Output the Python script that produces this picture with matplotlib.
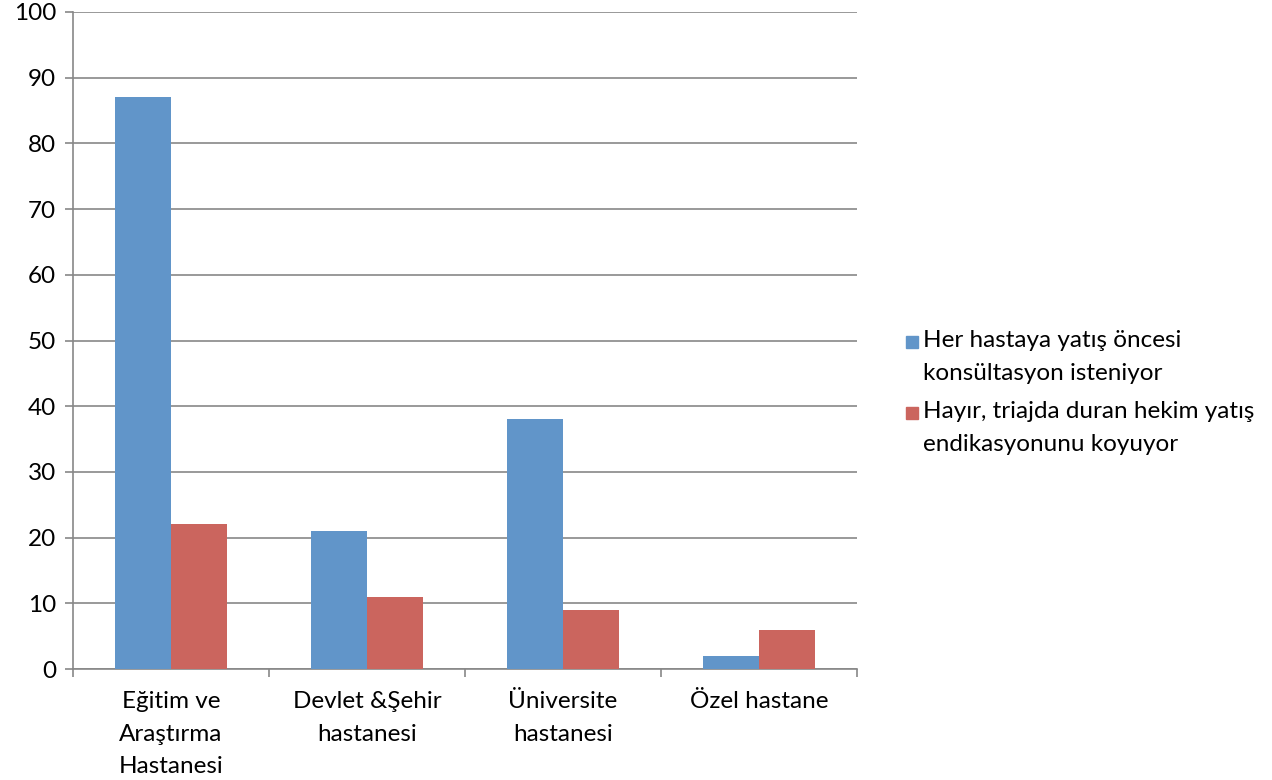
import numpy as np
import matplotlib.pyplot as plt
from matplotlib.patches import Rectangle

categories = ["Eğitim ve\nAraştırma\nHastanesi", "Devlet &Şehir\nhastanesi",
              "Üniversite\nhastanesi", "Özel hastane"]
series_names = ["Her hastaya yatış öncesi\nkonsültasyon isteniyor",
                "Hayır, triajda duran hekim yatış\nendikasyonunu koyuyor"]
consult = [87, 21, 38, 2]
triage = [22, 11, 9, 6]
colors = ["#6195C9", "#CB655E"]

plt.rcParams['font.family'] = ['Lato', 'DejaVu Sans']
fs = 17.5

fig = plt.figure(figsize=(12.72, 7.8), dpi=100)
ax = fig.add_axes([73/1272, 111/780, 784/1272, 657/780])

x = np.arange(len(categories))
w = 0.285
ax.bar(x - w/2, consult, w, color=colors[0], zorder=3)
ax.bar(x + w/2, triage, w, color=colors[1], zorder=3)

ax.set_xlim(-0.5, len(categories) - 0.5)
ax.set_ylim(0, 100)
ax.set_yticks(np.arange(0, 101, 10))
ax.yaxis.grid(True, color='#878787', linewidth=1.2, zorder=0)
ax.set_xticks(x)
ax.set_xticklabels(categories, fontsize=fs, linespacing=1.68,
                   multialignment='center')
ax.set_xticks(np.arange(-0.5, len(categories)), minor=True)
ax.tick_params(axis='x', which='major', length=0, pad=16)
ax.tick_params(axis='x', which='minor', length=6, color='#878787', width=1.2)
ax.tick_params(axis='y', length=6, color='#878787', width=1.2, labelsize=fs, pad=6)
for s in ['top', 'right']:
    ax.spines[s].set_visible(False)
for s in ['left', 'bottom']:
    ax.spines[s].set_color('#878787')
    ax.spines[s].set_linewidth(1.2)

# legend drawn by hand, square beside first line
legend_y = [342, 413]
for name, c, yy in zip(series_names, colors, legend_y):
    fig.patches.append(Rectangle((906/1272, 1 - (yy + 6)/780), 12/1272, 12/780,
                                 transform=fig.transFigure, color=c))
    fig.text(923/1272, 1 - (yy - 12)/780, name, fontsize=fs, va='top',
             ha='left', linespacing=1.68, transform=fig.transFigure)

fig.savefig("out.png", dpi=100)
